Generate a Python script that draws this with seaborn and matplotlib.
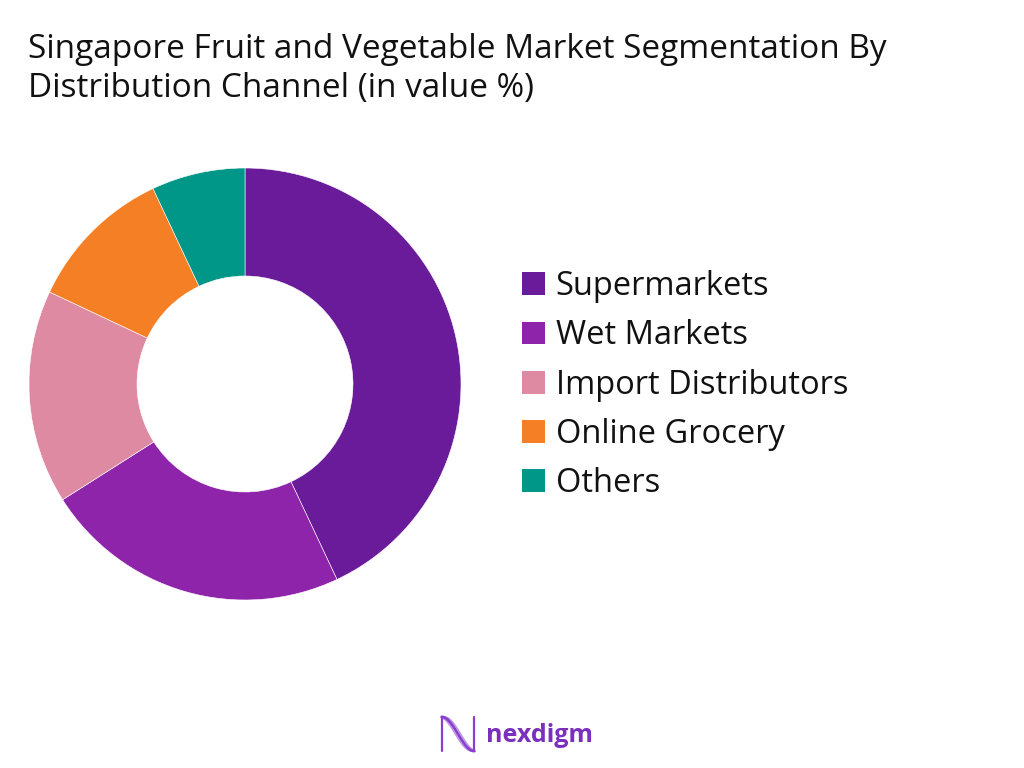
import matplotlib
matplotlib.use("Agg")
import matplotlib.pyplot as plt
import seaborn as sns
import numpy as np
from matplotlib.patches import Patch

categories = ["Supermarkets", "Wet Markets", "Import Distributors", "Online Grocery", "Others"]
values = [43, 23, 16, 11, 7]
colors = ["#6A1B9A", "#8E24AA", "#DE8AA2", "#F47F24", "#009688"]
title = "Singapore Fruit and Vegetable Market Segmentation By\nDistribution Channel (in value %)"

sns.set_theme(style="white")
plt.rcParams['font.family'] = ['Open Sans', 'DejaVu Sans']

fig = plt.figure(figsize=(10.24, 7.68), dpi=100)
fig.patch.set_facecolor("white")

ax = fig.add_axes([29/1024, (768-600)/768, 432/1024, 432/768])
ax.pie(values, colors=colors, startangle=90, counterclock=False,
       radius=1.0, wedgeprops=dict(width=0.5, edgecolor="white", linewidth=0.4))
ax.set_xlim(-1, 1)
ax.set_ylim(-1, 1)
ax.set_aspect("equal")
ax.axis("off")

fig.text(28/1024, 1 - 33/768, title, fontsize=24, color="#111111",
         ha="left", va="top", linespacing=1.25)

handles = [Patch(facecolor=c, edgecolor="none") for c in colors]
leg = fig.legend(handles, categories, loc="upper left",
                 bbox_to_anchor=(509/1024, 1 - 257/768), frameon=False,
                 fontsize=23.5, handlelength=0.7, handleheight=0.7,
                 handletextpad=0.33, labelspacing=0.5, borderaxespad=0)
for t in leg.get_texts():
    t.set_color("#111111")

# logo
lax = fig.add_axes([440/1024, 1 - 753/768, 36/1024, 38/768])
xs = np.linspace(0, 1, 100)
for off, lw, al in [(0.0, 2.0, 1.0), (0.08, 1.1, 0.55), (-0.08, 1.1, 0.55)]:
    lax.plot(xs, 0.5 + 0.45 * np.cos(np.pi * (xs + off)), color="#8A3FCF", lw=lw, alpha=al)
lax.plot([0.02, 0.02], [0.05, 0.95], color="#8A3FCF", lw=1.6)
lax.plot([0.98, 0.98], [0.05, 0.95], color="#8A3FCF", lw=1.6)
lax.set_xlim(-0.05, 1.05)
lax.set_ylim(0, 1)
lax.axis("off")
fig.text(486/1024, 1 - 735/768, "nexdigm", fontsize=18, fontweight="bold",
         color="#7B2FBE", ha="left", va="center")

fig.savefig("out.png", dpi=100, facecolor="white")
